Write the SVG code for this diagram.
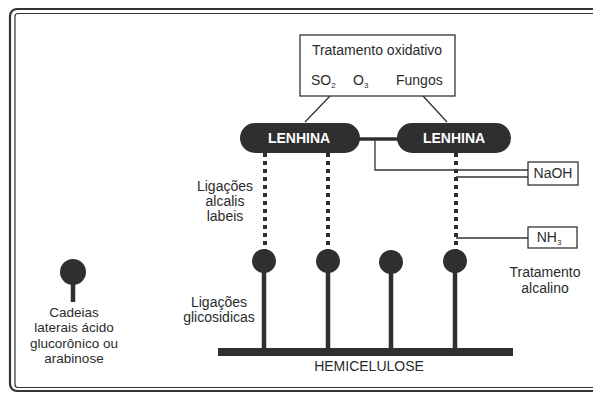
<svg xmlns="http://www.w3.org/2000/svg" width="593" height="394" viewBox="0 0 593 394">
<style>
text{font-family:"Liberation Sans",Arial,sans-serif;fill:#2b2b2b;font-size:14px}
.c{text-anchor:middle}
.lg{font-size:13.5px}
.w{fill:#fff;font-weight:bold;font-size:14px}
.dk{fill:#2f2f2f}
.dot{stroke:#2f2f2f;stroke-width:4;stroke-dasharray:4 4;fill:none}
.thin{stroke:#333;stroke-width:1.3;fill:none}
.box{fill:#fff;stroke:#333;stroke-width:1.3}
.stem{stroke:#2f2f2f;stroke-width:4.5}
</style>
<rect width="593" height="394" fill="#fff"/>
<g id="frame" fill="none" stroke="#333">
<rect x="10" y="9" width="620" height="382" rx="7" stroke-width="2.2"/>
<rect x="15" y="13.5" width="620" height="374" rx="3" stroke-width="1.2"/>
</g>
<g id="connectors">
<line x1="330" y1="96" x2="305" y2="122" class="thin" stroke-width="1.6"/>
<line x1="423" y1="96" x2="447" y2="122" class="thin" stroke-width="1.6"/>
<line x1="355" y1="139" x2="400" y2="139" stroke="#2f2f2f" stroke-width="3.5"/>
<polyline points="375,139 375,170 528,170" class="thin"/>
<line x1="456" y1="177" x2="528" y2="177" class="thin"/>
<line x1="456" y1="238" x2="528" y2="238" class="thin"/>
<line x1="265" y1="153" x2="265" y2="250" class="dot"/>
<line x1="328" y1="153" x2="328" y2="250" class="dot"/>
<line x1="456" y1="153" x2="456" y2="250" class="dot"/>
</g>
<g id="oxidativo">
<rect x="300" y="35" width="155" height="61" class="box"/>
<text x="377" y="55" class="c">Tratamento oxidativo</text>
<text x="311" y="85">SO<tspan font-size="8" dy="3">2</tspan></text>
<text x="353" y="85">O<tspan font-size="8" dy="3">3</tspan></text>
<text x="396" y="85">Fungos</text>
</g>
<g id="lenhina1">
<rect x="240" y="123" width="120" height="30" rx="15" class="dk"/>
<text x="299" y="143" class="c w">LENHINA</text>
</g>
<g id="lenhina2">
<rect x="397" y="123" width="114" height="30" rx="15" class="dk"/>
<text x="454" y="143" class="c w">LENHINA</text>
</g>
<g id="naoh">
<rect x="528" y="162" width="50" height="23" class="box"/>
<text x="553" y="178" class="c">NaOH</text>
</g>
<g id="nh3">
<rect x="528" y="227" width="49" height="21" class="box"/>
<text x="549" y="242" class="c">NH<tspan font-size="8" dy="3">3</tspan></text>
</g>
<g id="hemicelulose">
<rect x="218" y="348" width="295" height="8" class="dk"/>
<g class="stem">
<line x1="264" y1="255" x2="264" y2="350"/>
<line x1="328" y1="255" x2="328" y2="350"/>
<line x1="391" y1="255" x2="391" y2="350"/>
<line x1="455" y1="255" x2="455" y2="350"/>
</g>
<g class="dk">
<circle cx="264" cy="261" r="12"/>
<circle cx="328" cy="261" r="12"/>
<circle cx="391" cy="262" r="12"/>
<circle cx="455" cy="261" r="12"/>
</g>
<text x="369" y="371" class="c">HEMICELULOSE</text>
</g>
<g id="legend">
<line x1="73" y1="280" x2="73" y2="302" class="stem"/>
<circle cx="73" cy="272" r="13" class="dk"/>
<text class="c lg"><tspan x="74" y="317">Cadeias</tspan><tspan x="74" y="332">laterais ácido</tspan><tspan x="74" y="347.5">glucorônico ou</tspan><tspan x="74" y="363">arabinose</tspan></text>
</g>
<g id="labels">
<text class="c"><tspan x="225" y="191">Ligações</tspan><tspan x="225" y="206">alcalis</tspan><tspan x="225" y="221">labeis</tspan></text>
<text class="c"><tspan x="219" y="307">Ligações</tspan><tspan x="219" y="322">glicosidicas</tspan></text>
<text class="c"><tspan x="545" y="277">Tratamento</tspan><tspan x="545" y="293">alcalino</tspan></text>
</g>
</svg>
